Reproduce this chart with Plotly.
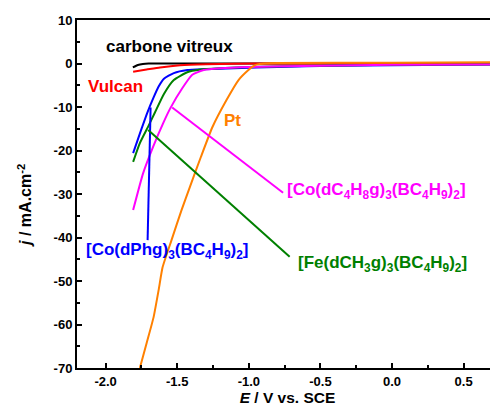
import plotly.graph_objects as go

# ---- data (E / V vs SCE, j / mA cm-2) ----
gc_E = [-1.81, -1.775, -1.74, -1.70, -1.60, -1.40, -1.00, 0.00, 0.74]
gc_j = [-0.9, -0.35, -0.1, 0.0, 0.0, 0.0, 0.0, 0.0, 0.0]

vulcan_E = [-1.808, -1.714, -1.62, -1.48, -1.30, -1.10, -0.80, 0.00, 0.74]
vulcan_j = [-1.9, -1.4, -0.9, -0.4, -0.15, -0.05, 0.0, 0.0, 0.0]

co_dphg_E = [-1.808, -1.746, -1.710, -1.665, -1.630, -1.593, -1.524, -1.43, -1.315, -1.10, -0.80, -0.40, 0.00, 0.74]
co_dphg_j = [-20.6, -14.7, -11.4, -7.8, -5.3, -3.5, -2.2, -1.5, -1.3, -1.1, -0.8, -0.5, -0.4, -0.2]

fe_E = [-1.808, -1.761, -1.703, -1.655, -1.593, -1.524, -1.43, -1.337, -1.20, -1.00, -0.50, 0.00, 0.74]
fe_j = [-22.6, -18.3, -14.5, -11.2, -7.0, -3.8, -2.0, -1.4, -1.1, -0.8, -0.5, -0.3, -0.2]

co_c4_E = [-1.808, -1.738, -1.668, -1.598, -1.547, -1.465, -1.395, -1.315, -1.20, -1.00, -0.50, 0.00, 0.74]
co_c4_j = [-33.7, -25.2, -19.1, -13.7, -10.2, -5.7, -2.6, -1.5, -1.1, -0.8, -0.5, -0.3, -0.2]

pt_E = [-1.761, -1.714, -1.665, -1.630, -1.602, -1.540, -1.470, -1.412, -1.335, -1.254, -1.156, -1.072, -1.003, -0.968, -0.940, -0.80, 0.00, 0.74]
pt_j = [-70.0, -64.3, -58.3, -52.1, -46.8, -40.6, -33.7, -28.4, -21.5, -14.6, -8.4, -3.8, -1.5, -0.6, -0.2, 0.1, 0.2, 0.3]

# leader lines for labels
lead_dphg_E = [-1.686, -1.707]
lead_dphg_j = [-10.1, -40.6]
lead_fe_E = [-1.703, -0.715]
lead_fe_j = [-15.3, -44.4]
lead_c4_E = [-1.535, -0.761]
lead_c4_j = [-10.1, -29.7]

x_tickvals = [-2.0, -1.5, -1.0, -0.5, 0.0, 0.5]
x_ticktext = ["-2.0", "-1.5", "-1.0", "-0.5", "0.0", "0.5"]
y_tickvals = [10, 0, -10, -20, -30, -40, -50, -60, -70]
y_ticktext = ["10", "0", "-10", "-20", "-30", "-40", "-50", "-60", "-70"]

BLACK = "#000000"
RED = "#ff0000"
BLUE = "#0000ff"
GREEN = "#008000"
MAGENTA = "#ff00ff"
ORANGE = "#ff8000"

fig = go.Figure()
series = [
    (gc_E, gc_j, BLACK),
    (vulcan_E, vulcan_j, RED),
    (co_dphg_E, co_dphg_j, BLUE),
    (fe_E, fe_j, GREEN),
    (co_c4_E, co_c4_j, MAGENTA),
    (pt_E, pt_j, ORANGE),
    (lead_dphg_E, lead_dphg_j, BLUE),
    (lead_fe_E, lead_fe_j, GREEN),
    (lead_c4_E, lead_c4_j, MAGENTA),
]
for xs, ys, c in series:
    fig.add_trace(go.Scatter(x=xs, y=ys, mode="lines",
                             line=dict(color=c, width=2, shape="spline", smoothing=0.5),
                             showlegend=False, hoverinfo="skip"))

FONT = "Liberation Sans, Arial, sans-serif"
labels = [
    (-1.555, 4.0, "carbone vitreux", BLACK),
    (-1.93, -5.2, "Vulcan", RED),
    (-1.112, -13.0, "Pt", ORANGE),
    (-0.108, -29.4, "[Co(dC<sub>4</sub>H<sub>8</sub>g)<sub>3</sub>(BC<sub>4</sub>H<sub>9</sub>)<sub>2</sub>]", MAGENTA),
    (-1.57, -43.0, "[Co(dPhg)<sub>3</sub>(BC<sub>4</sub>H<sub>9</sub>)<sub>2</sub>]", BLUE),
    (-0.066, -46.0, "[Fe(dCH<sub>3</sub>g)<sub>3</sub>(BC<sub>4</sub>H<sub>9</sub>)<sub>2</sub>]", GREEN),
]
for x, y, t, c in labels:
    fig.add_annotation(x=x, y=y, text="<b>" + t + "</b>", showarrow=False,
                       font=dict(family=FONT, size=17, color=c, weight="bold"),
                       xanchor="center", yanchor="middle")

# y axis title as a rotated annotation (placed a little below the axis centre, as in the reference)
fig.add_annotation(xref="paper", yref="paper", x=-0.124, y=0.468,
                   text="<b><i>j</i> / mA.cm<sup>-2</sup></b>", textangle=-90, showarrow=False,
                   font=dict(family=FONT, size=16, color="black", weight="bold"),
                   xanchor="center", yanchor="middle")

# the page body has an 8 px margin, so the figure is 8 px smaller than the window
fig.update_layout(
    width=490, height=406,
    margin=dict(l=69, r=0, t=12, b=46, autoexpand=False),
    paper_bgcolor="white", plot_bgcolor="white",
    font=dict(family=FONT, size=13, color="black"),
)
fig.update_xaxes(
    range=[-2.2, 0.74], tickvals=x_tickvals, ticktext=x_ticktext,
    ticks="inside", ticklen=5, tickwidth=1.5, tickcolor="black",
    minor=dict(dtick=0.25, tick0=0, ticks="inside", ticklen=3, tickwidth=1.5, tickcolor="black"),
    showline=True, linecolor="black", linewidth=2, mirror=True,
    showgrid=False, zeroline=False, automargin=False,
    tickfont=dict(family=FONT, size=13, color="black", weight="bold"),
    title=dict(text="<b><i>E</i> / V vs. SCE</b>", font=dict(family=FONT, size=15.5, color="black", weight="bold"), standoff=4),
)
fig.update_yaxes(
    range=[-70, 10], tickvals=y_tickvals, ticktext=y_ticktext,
    ticks="inside", ticklen=5, tickwidth=1.5, tickcolor="black",
    minor=dict(dtick=5, tick0=0, ticks="inside", ticklen=3, tickwidth=1.5, tickcolor="black"),
    showline=True, linecolor="black", linewidth=2,
    showgrid=False, zeroline=False, automargin=False,
    tickfont=dict(family=FONT, size=13, color="black", weight="bold"),
)

fig.write_html("out.html")
